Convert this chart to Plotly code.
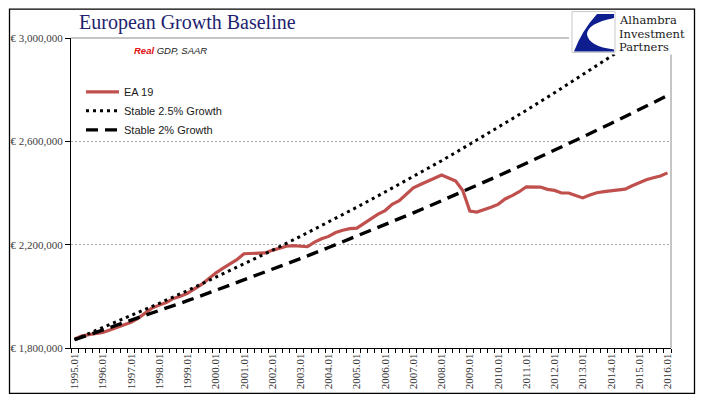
import plotly.graph_objects as go

# ---------------- data ----------------
years = list(range(1995, 2017))
year_labels = [f"{y}.01" for y in years]
quarters = [f"{y}.{q:02d}" for y in range(1995, 2016) for q in range(1, 5)] + ["2016.01"]

# EA 19 real GDP (EUR thousands), quarterly 1995.01 .. 2016.01
ea19_k = [1835, 1846, 1852, 1856, 1860, 1870, 1880, 1892, 1900, 1915,
          1935, 1955, 1966, 1976, 1992, 2000, 2012, 2028, 2046, 2068,
          2090, 2108, 2124, 2142, 2165, 2166, 2166, 2168, 2178, 2185,
          2194, 2196, 2194, 2192, 2210, 2223, 2232, 2247, 2256, 2262,
          2264, 2282, 2300, 2318, 2332, 2356, 2370, 2396, 2420, 2433,
          2445, 2458, 2470, 2458, 2446, 2410, 2330, 2326, 2334, 2345,
          2356, 2377, 2390, 2405, 2424, 2424, 2423, 2414, 2410, 2400,
          2400, 2390, 2381, 2392, 2401, 2405, 2409, 2412, 2415, 2428,
          2440, 2451, 2459, 2466, 2478]

# Stable growth baselines (EUR thousands, read at each year's .01 quarter)
stable_25_k = [1832, 1878, 1925, 1973, 2022, 2073, 2125, 2178, 2232, 2288, 2345,
               2404, 2464, 2525, 2589, 2653, 2720, 2788, 2857, 2929, 3002, 3077]
stable_20_k = [1832, 1869, 1906, 1944, 1983, 2023, 2063, 2104, 2146, 2189, 2233,
               2278, 2323, 2370, 2417, 2466, 2515, 2565, 2617, 2669, 2722, 2777]

y_ticks = [1800000, 2200000, 2600000, 3000000]
y_tick_labels = ["€ 1,800,000", "€ 2,200,000", "€ 2,600,000", "€ 3,000,000"]

# ---------------- figure ----------------
x_q = [quarters.index(q) for q in quarters]
x_y = [quarters.index(l) for l in year_labels]

W, H = 705, 401
L, R, T, B = 71, 671, 37.5, 348.5


def px(x):
    return (x - L) / (R - L)


def py(y):
    return (B - y) / (B - T)


SERIF = "Liberation Serif, Times New Roman, serif"
SANS = "Liberation Sans, Arial, sans-serif"

fig = go.Figure()
fig.add_trace(go.Scatter(
    x=x_q, y=[v * 1000 for v in ea19_k], name="EA 19", mode="lines",
    line=dict(color="#C0504D", width=3.2)))
fig.add_trace(go.Scatter(
    x=x_y, y=[v * 1000 for v in stable_25_k], name="Stable 2.5% Growth", mode="lines",
    line=dict(color="black", width=3, dash="3px,4px")))
fig.add_trace(go.Scatter(
    x=x_y, y=[v * 1000 for v in stable_20_k], name="Stable 2% Growth", mode="lines",
    line=dict(color="black", width=3.4, dash="12px,7px")))

shapes = []
# plot area border (gray), top and right
shapes.append(dict(type="line", xref="paper", yref="paper", x0=0, x1=1, y0=1, y1=1,
                   line=dict(color="#8C8C8C", width=1), layer="between"))
shapes.append(dict(type="line", xref="paper", yref="paper", x0=1, x1=1, y0=0, y1=1,
                   line=dict(color="#8C8C8C", width=1), layer="between"))
# outer chart border
shapes.append(dict(type="rect", xref="paper", yref="paper",
                   x0=px(9.5), x1=px(694.5), y0=py(394), y1=py(8.5),
                   line=dict(color="black", width=1.3), layer="above"))
# logo background cover
shapes.append(dict(type="rect", xref="paper", yref="paper",
                   x0=px(569), x1=px(693), y0=py(54), y1=py(9.5),
                   line=dict(width=0), fillcolor="white", layer="above"))
# logo box
shapes.append(dict(type="rect", xref="paper", yref="paper",
                   x0=px(572), x1=px(615), y0=py(52), y1=py(11),
                   line=dict(color="#C8C8C8", width=1), fillcolor="white", layer="above"))
# logo swoosh
path = "M{:.4f},{:.4f} L{:.4f},{:.4f} L{:.4f},{:.4f} ".format(
    px(597), py(13.5), px(614), py(13.5), px(614), py(17.5))
path += "Q{:.4f},{:.4f} {:.4f},{:.4f} ".format(px(587), py(23), px(587), py(34))
path += "Q{:.4f},{:.4f} {:.4f},{:.4f} ".format(px(589), py(46), px(614), py(49))
path += "L{:.4f},{:.4f} L{:.4f},{:.4f} ".format(px(614), py(51), px(574), py(51))
path += "Q{:.4f},{:.4f} {:.4f},{:.4f} Z".format(px(582), py(30), px(597), py(13.5))
shapes.append(dict(type="path", xref="paper", yref="paper", path=path,
                   fillcolor="#0F1E8F", line=dict(width=0), layer="above"))

annotations = [
    dict(text="European Growth Baseline", x=px(77), y=py(22), xref="paper", yref="paper",
         xanchor="left", yanchor="middle", showarrow=False,
         font=dict(family=SERIF, size=20, color="#1F1F70")),
    dict(text="<i><b><span style='color:#E01010'>Real</span></b> GDP, SAAR</i>",
         x=px(132), y=py(50), xref="paper", yref="paper",
         xanchor="left", yanchor="middle", showarrow=False,
         font=dict(family=SANS, size=9.5, color="#1A1A1A")),
]
for txt, yy in [("Alhambra", 19.5), ("Investment", 33), ("Partners", 46.5)]:
    annotations.append(dict(text=txt, x=px(617), y=py(yy), xref="paper", yref="paper",
                            xanchor="left", yanchor="middle", showarrow=False,
                            font=dict(family="DejaVu Serif, serif", size=11.5, color="#1A1A1A")))

fig.update_layout(
    width=W, height=H,
    margin=dict(l=L, r=W - R, t=T, b=H - B, pad=0, autoexpand=False),
    paper_bgcolor="white", plot_bgcolor="white",
    showlegend=True,
    legend=dict(x=px(81), y=py(77), xanchor="left", yanchor="top",
                bgcolor="rgba(0,0,0,0)", font=dict(family=SANS, size=11, color="#1A1A1A"),
                itemwidth=33, tracegroupgap=0),
    shapes=shapes, annotations=annotations,
)

fig.update_xaxes(
    range=[-0.5, len(quarters) - 0.5], automargin=False,
    tickmode="array", tickvals=x_y, ticktext=year_labels, tickangle=-90,
    ticks="", showgrid=False, zeroline=False,
    showline=True, linecolor="black", linewidth=1.3,
    tickfont=dict(family=SERIF, size=11, color="#333333"),
    minor=dict(tickmode="linear", tick0=-0.5, dtick=1, ticks="outside",
               ticklen=4, tickcolor="black", tickwidth=1, showgrid=False),
)
fig.update_yaxes(
    range=[y_ticks[0], y_ticks[-1]], automargin=False,
    tickmode="array", tickvals=y_ticks, ticktext=y_tick_labels,
    ticks="outside", ticklen=5, tickcolor="black",
    showline=True, linecolor="black", linewidth=1.3,
    showgrid=True, gridcolor="#A6A6A6", gridwidth=1, griddash="2px,2px",
    zeroline=False,
    tickfont=dict(family=SERIF, size=11, color="#404040"),
)

fig.write_html("out.html", config={"displayModeBar": False},
               post_script="document.body.style.margin='0';")
